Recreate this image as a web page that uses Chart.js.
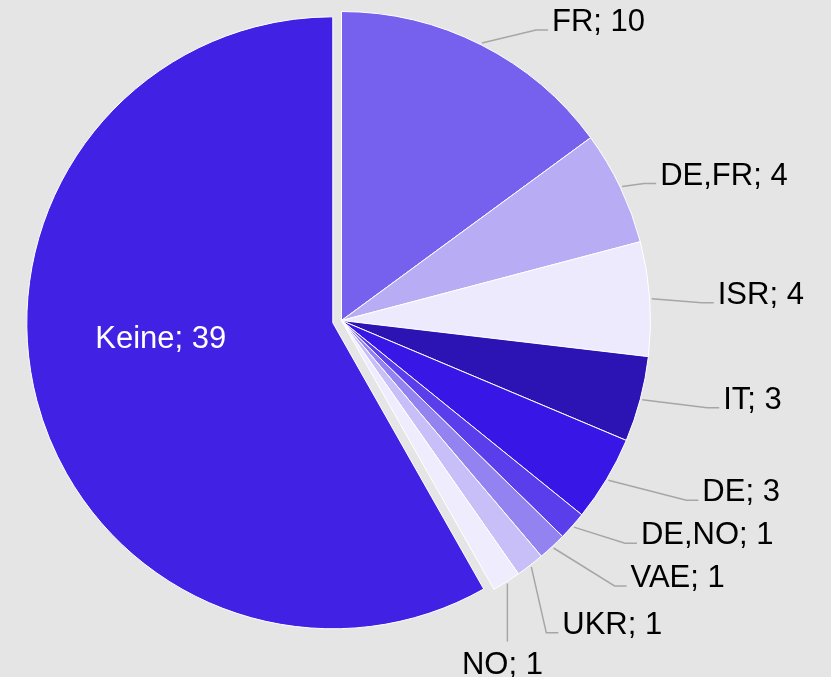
<!DOCTYPE html>
<html>
<head>
<meta charset="utf-8">
<script src="https://cdn.jsdelivr.net/npm/chart.js@4/dist/chart.umd.min.js"></script>
<style>
  html, body { margin: 0; padding: 0; background: #e5e5e5; }
  #wrap { width: 831px; height: 677px; }
</style>
</head>
<body>
<div id="wrap"><canvas id="chartHerkunft" width="831" height="677"></canvas></div>
<script>
const labels = ['FR', 'DE,FR', 'ISR', 'IT', 'DE', 'DE,NO', 'VAE', 'UKR', 'NO', 'Keine'];
const counts = [10, 4, 4, 3, 3, 1, 1, 1, 1, 39];
const colors = ['#7561ee', '#b8adf5', '#eceafc', '#2c13b4', '#3716e6', '#5a3eeb', '#9383f1', '#c8bff8', '#efedfd', '#4121e4'];

// where each label sits relative to its slice edge (styling only)
const leader = [[54, -13], [22, -3], [50, 4], [65, 8], [78, 20], [51, 16], [61, 38], [15, 66], [0, 58], [-172, 25]];
const leaderMode = ['side', 'side', 'side', 'side', 'side', 'side', 'side', 'side', 'below', 'inside'];

// pull the big slice out a bit, like the original
const explodeKeine = {
    id: 'explodeKeine',
    afterDatasetUpdate(chart, args) {
        const arc = args.meta.data[9];
        const mid = (arc.startAngle + arc.endAngle) / 2;
        arc.x += Math.cos(mid) * 9;
        arc.y += Math.sin(mid) * 9;
        arc.outerRadius -= 3;
    }
};

const sliceLabels = {
    id: 'sliceLabels',
    afterDraw(chart) {
        const ctx = chart.ctx;
        const arcs = chart.getDatasetMeta(0).data;
        ctx.save();
        ctx.font = '31px "Liberation Sans", Arial, sans-serif';
        ctx.textBaseline = 'alphabetic';
        arcs.forEach((arc, i) => {
            const text = labels[i] + '; ' + counts[i];
            const mid = (arc.startAngle + arc.endAngle) / 2;
            const [dx, dy] = leader[i];
            if (leaderMode[i] === 'inside') {
                ctx.fillStyle = '#ffffff';
                ctx.textAlign = 'center';
                ctx.fillText(text, arc.x + dx, arc.y + dy);
                return;
            }
            const ax = arc.x + Math.cos(mid) * (arc.outerRadius + 2);
            const ay = arc.y + Math.sin(mid) * (arc.outerRadius + 2);
            const ex = ax + dx, ey = ay + dy;
            ctx.strokeStyle = '#a6a6a6';
            ctx.lineWidth = 1.5;
            ctx.beginPath();
            ctx.moveTo(ax, ay);
            ctx.lineTo(ex, ey);
            if (leaderMode[i] === 'side') ctx.lineTo(ex + 12, ey);
            ctx.stroke();
            ctx.fillStyle = '#000000';
            if (leaderMode[i] === 'side') {
                ctx.textAlign = 'left';
                ctx.fillText(text, ex + 16, ey + 1);
            } else {
                ctx.textAlign = 'center';
                ctx.fillText(text, ex - 5, ey + 32);
            }
        });
        ctx.restore();
    }
};

const ctxHerkunft = document.getElementById('chartHerkunft').getContext('2d');
new Chart(ctxHerkunft, {
    type: 'pie',
    data: {
        labels: labels,
        datasets: [{
            data: counts,
            backgroundColor: colors,
            borderColor: '#ffffff',
            borderWidth: 1
        }]
    },
    options: {
        responsive: false,
        animation: false,
        radius: 309,
        layout: { padding: { left: 0, top: 0, right: 148, bottom: 36 } },
        plugins: {
            legend: { display: false },
            tooltip: { enabled: false }
        }
    },
    plugins: [explodeKeine, sliceLabels]
});
</script>
</body>
</html>
